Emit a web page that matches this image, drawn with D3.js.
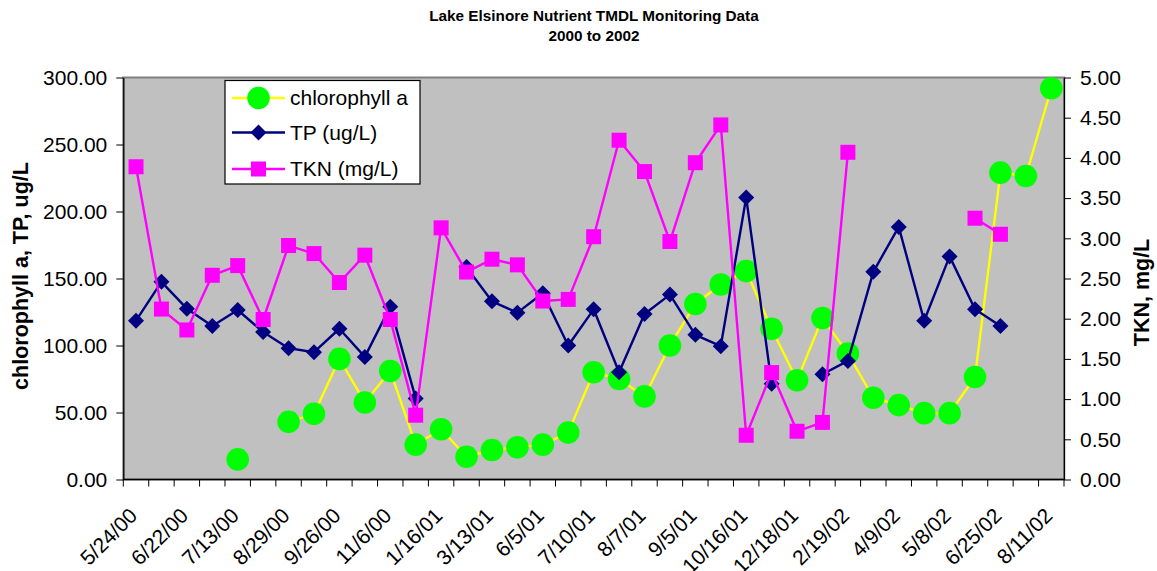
<!DOCTYPE html>
<html>
<head>
<meta charset="utf-8">
<script src="https://cdn.jsdelivr.net/npm/d3@7"></script>
<style>
  html, body { margin: 0; padding: 0; background: #ffffff; }
  svg { display: block; font-family: "Liberation Sans", Arial, Helvetica, sans-serif; }
</style>
</head>
<body>
<svg id="chart" width="1157" height="571"></svg>
<script>
// Sampling events, in order (37 events, every second one labelled on the axis)
const samples = d3.range(1, 38);

// Axis labels for the even-numbered events
const dateLabels = ["5/24/00", "6/22/00", "7/13/00", "8/29/00", "9/26/00", "11/6/00",
  "1/16/01", "3/13/01", "6/5/01", "7/10/01", "8/7/01", "9/5/01", "10/16/01",
  "12/18/01", "2/19/02", "4/9/02", "5/8/02", "6/25/02", "8/11/02"];

// Chlorophyll a (ug/L), left axis; null = not sampled
const chlorophyll = [null, null, null, null, 15, null, 43, 49, 90, 57.5, 81, 26, 37.5,
  17, 22, 24, 26, 35, 80, 75, 62, 100, 131, 145.5, 155.5, 112.5, 74, 120.5, 94,
  61, 55.5, 49.5, 49.5, 76.5, 229, 226.5, 292];

// Total phosphorus (ug/L), left axis
const tp = [118.5, 147.5, 127.5, 114.5, 126.5, 110, 98, 95, 112.5, 91.5, 129, 60.5, null,
  158.5, 133, 124.5, 139, 100, 127, 80, 123.5, 138, 108, 99.5, 210.5, 71.5, null,
  78.5, 88.5, 155, 188.5, 118.5, 166.5, 127, 114.5, null, null];

// Total Kjeldahl nitrogen (mg/L), right axis
const tkn = [3.89, 2.12, 1.86, 2.54, 2.66, 1.99, 2.91, 2.81, 2.45, 2.79, 1.99, 0.80, 3.13,
  2.58, 2.74, 2.67, 2.22, 2.24, 3.02, 4.22, 3.83, 2.96, 3.94, 4.41, 0.55, 1.33, 0.60,
  0.71, 4.07, null, null, null, null, 3.25, 3.05, null, null];

const leftTicks = [0, 50, 100, 150, 200, 250, 300];
const rightTicks = [0, 0.5, 1, 1.5, 2, 2.5, 3, 3.5, 4, 4.5, 5];

const svg = d3.select("#chart");
const plot = { left: 123.3, right: 1064, top: 77.5, bottom: 479.5 };

const x = d3.scaleBand().domain(samples).range([plot.left, plot.right]).padding(0);
const yL = d3.scaleLinear().domain([0, 300]).range([plot.bottom, plot.top]);
const yR = d3.scaleLinear().domain([0, 5]).range([plot.bottom, plot.top]);
const cx = s => x(s) + x.bandwidth() / 2;

// Title
const title = svg.append("g").attr("font-weight", "bold").attr("font-size", "15.3px")
  .attr("text-anchor", "middle").attr("fill", "#000");
title.append("text").attr("x", 594).attr("y", 20.5).text("Lake Elsinore Nutrient TMDL Monitoring Data");
title.append("text").attr("x", 594).attr("y", 40.5).text("2000 to 2002");

// Plot area
svg.append("rect")
  .attr("x", plot.left).attr("y", plot.top)
  .attr("width", plot.right - plot.left).attr("height", plot.bottom - plot.top)
  .attr("fill", "#c0c0c0").attr("stroke", "#808080").attr("stroke-width", 2);

// Left axis
const axL = svg.append("g").attr("transform", `translate(${plot.left},0)`)
  .call(d3.axisLeft(yL).tickValues(leftTicks).tickFormat(d3.format(".2f"))
    .tickSize(7).tickSizeOuter(0).tickPadding(9));
axL.select(".domain").attr("stroke", "#000").attr("stroke-width", 1.3);
axL.selectAll("text").attr("font-size", "21px").attr("font-family", null).attr("fill", "#000");

// Right axis
const axR = svg.append("g").attr("transform", `translate(${plot.right},0)`)
  .call(d3.axisRight(yR).tickValues(rightTicks).tickFormat(d3.format(".2f"))
    .tickSize(7).tickSizeOuter(0).tickPadding(9));
axR.select(".domain").attr("stroke", "#000").attr("stroke-width", 1.3);
axR.selectAll("text").attr("font-size", "21px").attr("font-family", null).attr("fill", "#000");

// Category axis: tick marks between events, labels on every second event
const axB = svg.append("g").attr("transform", `translate(0,${plot.bottom})`);
axB.append("line").attr("x1", plot.left).attr("x2", plot.right)
  .attr("stroke", "#000").attr("stroke-width", 1.3);
axB.selectAll("line.tick").data(samples.concat([samples.length + 1]))
  .join("line").attr("class", "tick")
  .attr("x1", s => s <= samples.length ? x(s) : plot.right)
  .attr("x2", s => s <= samples.length ? x(s) : plot.right)
  .attr("y1", 0).attr("y2", 7).attr("stroke", "#000");
axB.selectAll("text").data(dateLabels).join("text")
  .attr("transform", (d, i) => `translate(${cx(samples[i * 2]) - 8},${27}) rotate(-45)`)
  .attr("text-anchor", "end").attr("dy", "0.71em")
  .attr("font-size", "21px").attr("fill", "#000")
  .text(d => d);

// Axis titles
svg.append("text").attr("transform", "translate(21,276) rotate(-90)")
  .attr("text-anchor", "middle").attr("dominant-baseline", "central")
  .attr("font-weight", "bold").attr("font-size", "21.5px").text("chlorophyll a, TP, ug/L");
svg.append("text").attr("transform", "translate(1142,292.5) rotate(-90)")
  .attr("text-anchor", "middle").attr("dominant-baseline", "central")
  .attr("font-weight", "bold").attr("font-size", "21.5px").text("TKN, mg/L");

// Series
const series = [
  { name: "chlorophyll a", values: chlorophyll, y: yL, line: "#ffff00", fill: "#00ff00", marker: "circle" },
  { name: "TP (ug/L)", values: tp, y: yL, line: "#000080", fill: "#000080", marker: "diamond" },
  { name: "TKN (mg/L)", values: tkn, y: yR, line: "#ff00ff", fill: "#ff00ff", marker: "square" }
];

function drawMarker(g, type, color) {
  if (type === "circle") g.append("circle").attr("r", 11.3).attr("fill", color);
  else if (type === "diamond") g.append("path").attr("d", "M0,-8L8,0L0,8L-8,0Z").attr("fill", color);
  else g.append("rect").attr("x", -7.5).attr("y", -7.5).attr("width", 15).attr("height", 15).attr("fill", color);
}

series.forEach(s => {
  const pts = samples.map((k, i) => ({ k, v: s.values[i] }));
  const line = d3.line().defined(d => d.v !== null)
    .x(d => cx(d.k)).y(d => s.y(d.v));
  const g = svg.append("g");
  g.append("path").datum(pts).attr("d", line)
    .attr("fill", "none").attr("stroke", s.line).attr("stroke-width", 2.4)
    .attr("stroke-linejoin", "round");
  pts.filter(d => d.v !== null).forEach(d => {
    const m = g.append("g").attr("transform", `translate(${cx(d.k)},${s.y(d.v)})`);
    drawMarker(m, s.marker, s.fill);
  });
});

// Legend
const lg = svg.append("g");
lg.append("rect").attr("x", 225).attr("y", 80.5).attr("width", 195).attr("height", 103.5)
  .attr("fill", "#fff").attr("stroke", "#000").attr("stroke-width", 1.2);
const rowsY = [98, 132.5, 169];
series.forEach((s, i) => {
  const row = lg.append("g").attr("transform", `translate(0,${rowsY[i]})`);
  row.append("line").attr("x1", 232).attr("x2", 285)
    .attr("stroke", s.line).attr("stroke-width", 2.4);
  const m = row.append("g").attr("transform", "translate(258.5,0)");
  drawMarker(m, s.marker, s.fill);
  row.append("text").attr("x", 290).attr("dy", "0.35em")
    .attr("font-size", "21px").attr("fill", "#000").text(s.name);
});
</script>
</body>
</html>
